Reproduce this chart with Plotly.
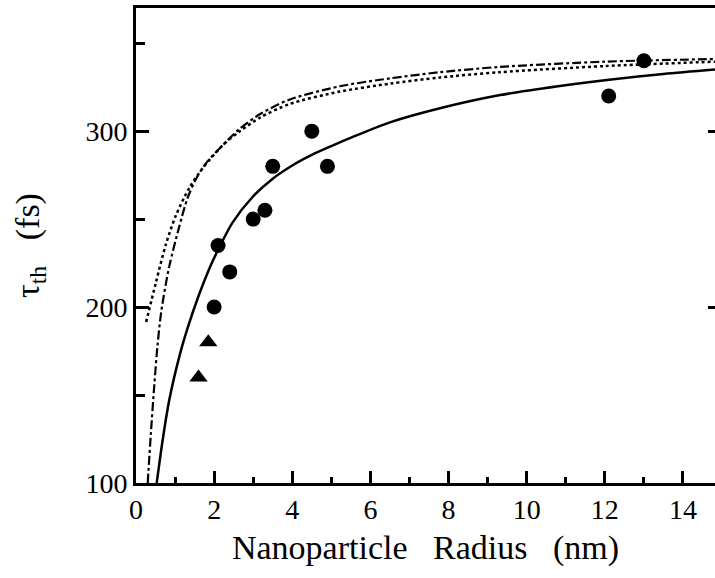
import plotly.graph_objects as go

# Measured data points
circle_x = [2.0, 2.1, 2.4, 3.0, 3.3, 3.5, 4.5, 4.9, 12.1, 13.0]
circle_y = [200, 235, 220, 250, 255, 280, 300, 280, 320, 340]

tri_x = [1.6, 1.85]
tri_y = [160, 180]

# Model curves
solid_x = [0.53, 0.68, 0.85, 1.11, 1.32, 1.58, 1.92, 2.09, 2.47, 3.0, 3.5, 4.0, 4.5, 5.0, 5.69, 6.5, 7.78, 9.32, 10.8, 12.22, 13.5, 14.82]
solid_y = [100, 124, 147, 172, 188, 205, 224, 232, 248, 263, 273, 280.5, 286.5, 291.5, 298, 305, 313, 320.5, 325.5, 329.5, 332.5, 335]

dot_x = [0.26, 0.51, 0.77, 1.02, 1.37, 1.71, 2.22, 2.66, 3.2, 3.94, 5.22, 6.5, 7.78, 9.3, 12.0, 14.82]
dot_y = [191.5, 214, 236, 252, 268, 279, 292, 300, 308, 315.5, 322.5, 327, 330.5, 333.5, 337, 339.5]

dd_x = [0.3, 0.38, 0.47, 0.55, 0.65, 0.85, 1.11, 1.32, 1.54, 1.8, 2.22, 2.66, 3.2, 3.94, 5.22, 6.5, 7.78, 9.3, 12.0, 14.82]
dd_y = [100, 128, 156, 178, 198, 223, 246, 262, 273, 282, 292, 301.5, 310, 318, 325.5, 330, 333.5, 336.5, 339.5, 341]

x_ticks = [0, 2, 4, 6, 8, 10, 12, 14]
y_ticks = [100, 200, 300]

X_RANGE = [0, 14.82]
Y_RANGE = [100, 370]

FONT = "'Liberation Serif', 'Times New Roman', 'DejaVu Serif', serif"

fig = go.Figure()
fig.add_trace(go.Scatter(x=dot_x, y=dot_y, mode="lines", line=dict(color="black", width=2.5, dash="dot", shape="spline", smoothing=0.8), showlegend=False))
fig.add_trace(go.Scatter(x=dd_x, y=dd_y, mode="lines", line=dict(color="black", width=2.2, dash="dashdot", shape="spline", smoothing=0.8), showlegend=False))
fig.add_trace(go.Scatter(x=solid_x, y=solid_y, mode="lines", line=dict(color="black", width=2.5, shape="spline", smoothing=0.8), showlegend=False))
fig.add_trace(go.Scatter(x=circle_x, y=circle_y, mode="markers", marker=dict(symbol="circle", size=15, color="black"), showlegend=False))
fig.add_trace(go.Scatter(x=tri_x, y=tri_y, mode="markers", marker=dict(symbol="triangle-up", size=16, color="black"), showlegend=False))
# invisible trace to realise right-hand tick axis
fig.add_trace(go.Scatter(x=[1], y=[200], yaxis="y2", mode="markers", marker=dict(size=1, opacity=0), showlegend=False, hoverinfo="skip"))

fig.update_layout(
    width=715, height=578,
    margin=dict(l=136, r=0, t=8, b=95),
    paper_bgcolor="white", plot_bgcolor="white",
    font=dict(family=FONT, color="black", size=28),
    xaxis=dict(
        range=X_RANGE, tickvals=x_ticks, ticktext=[str(v) for v in x_ticks],
        ticks="inside", ticklen=12, tickwidth=2.5, tickcolor="black",
        minor=dict(ticks="inside", ticklen=6, tickwidth=2.5, tickcolor="black", dtick=1, tick0=0, showgrid=False),
        showline=True, linewidth=2.5, linecolor="black", mirror=True,
        showgrid=False, zeroline=False,
        tickfont=dict(size=28, family=FONT, color="black"),
        title=dict(text="Nanoparticle\u00a0\u00a0\u00a0Radius\u00a0\u00a0\u00a0(nm)", font=dict(size=34, family=FONT, color="black"), standoff=11),
    ),
    yaxis=dict(
        range=Y_RANGE, tickvals=y_ticks, ticktext=[str(v) for v in y_ticks],
        ticks="inside", ticklen=13, tickwidth=2.5, tickcolor="black",
        minor=dict(ticks="inside", ticklen=9, tickwidth=2.5, tickcolor="black", dtick=50, tick0=100, showgrid=False),
        showline=True, linewidth=3, linecolor="black",
        showgrid=False, zeroline=False,
        tickfont=dict(size=28, family=FONT, color="black"),
        title=dict(text="\u03c4<sub>th</sub>\u00a0\u00a0\u00a0(fs)", font=dict(size=34, family=FONT, color="black"), standoff=36),
    ),
    yaxis2=dict(
        range=Y_RANGE, overlaying="y", side="right", anchor="free", position=1,
        tickvals=[200, 300], ticks="inside", ticklen=7, tickwidth=2.5, tickcolor="black",
        showticklabels=False, showline=False, showgrid=False, zeroline=False,
    ),
)

fig.write_html("out.html")
